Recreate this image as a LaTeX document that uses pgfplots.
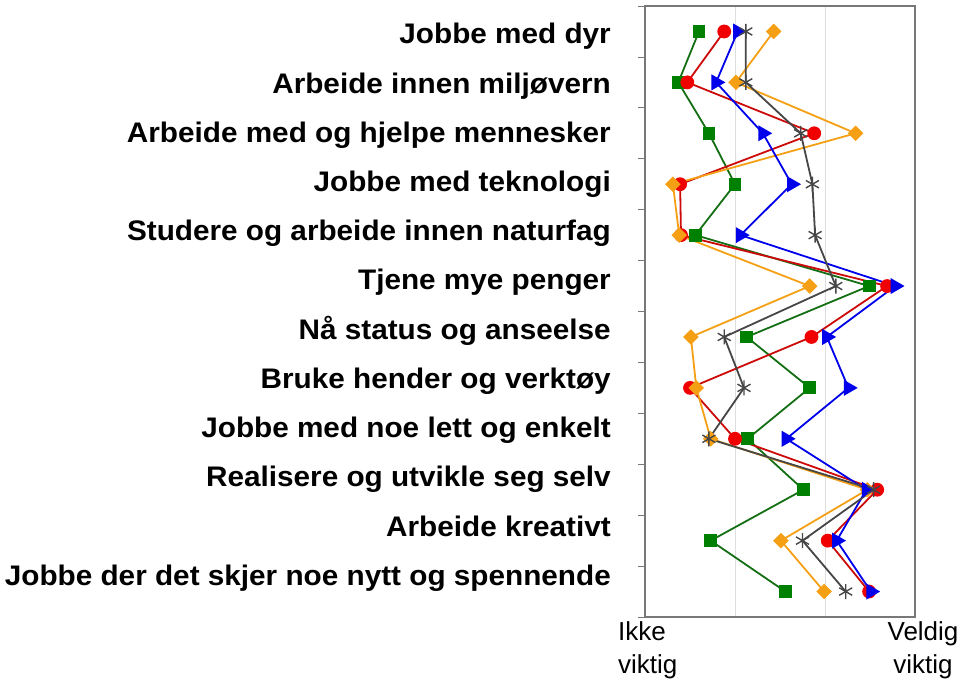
\documentclass[border=0pt]{standalone}
\usepackage{pgfplots}
\pgfplotsset{compat=1.18}
\usepackage{fontspec}
\setmainfont{Liberation Sans}
\newfontfamily\catfont{Liberation Sans}[FakeStretch=1.05]
\definecolor{cgreen}{RGB}{0,128,0}
\definecolor{cgreenl}{RGB}{20,110,20}
\definecolor{cred}{RGB}{240,0,0}
\definecolor{credl}{RGB}{205,10,10}
\definecolor{corange}{RGB}{245,160,20}
\definecolor{cblue}{RGB}{0,0,235}
\definecolor{cgray}{RGB}{70,70,70}
\definecolor{cframe}{RGB}{120,120,120}
\begin{document}
\begin{tikzpicture}[x=1pt,y=1pt]
\useasboundingbox (0,0) rectangle (960,680);
\begin{axis}[at={(645pt,63pt)}, anchor=south west, scale only axis,
  width=270pt, height=611pt,
  xmin=1, xmax=4, ymin=0.5, ymax=12.5, y dir=reverse,
  xtick={2,3}, xticklabels={}, xmajorgrids,
  major grid style={color=black!13, line width=0.6pt},
  ytick={1,...,12}, yticklabels={},
  major tick length=0pt,
  minor ytick={0.5,1.5,...,12.5}, minor tick length=7pt, tick align=outside,
  ytick pos=left, xtick pos=bottom,
  minor tick style={cframe, line width=0.8pt},
  axis line style={cframe, line width=1.2pt},
  clip=false,
  every axis plot/.append style={line width=1.8pt}]
\addplot[cgreenl, mark=square*, mark size=5.5pt, mark options={cgreen, solid}] coordinates {
(1.60,1) (1.37,2) (1.71,3) (2.00,4) (1.56,5) (3.49,6) (2.13,7) (2.83,8) (2.14,9) (2.76,10) (1.73,11) (2.56,12)};
\addplot[credl, mark=*, mark size=6pt, mark options={cred, solid}] coordinates {
(1.88,1) (1.47,2) (2.88,3) (1.39,4) (1.40,5) (3.69,6) (2.85,7) (1.50,8) (2.00,9) (3.58,10) (3.03,11) (3.49,12)};
\addplot[corange, mark=square*, mark size=4.6pt, mark options={corange, solid, rotate=45}] coordinates {
(2.43,1) (2.01,2) (3.34,3) (1.31,4) (1.38,5) (2.83,6) (1.51,7) (1.57,8) (1.73,9) (3.47,10) (2.51,11) (2.99,12)};
\addplot[cblue, mark=triangle*, mark size=7.5pt, mark options={cblue, solid, rotate=-90}] coordinates {
(2.03,1) (1.79,2) (2.31,3) (2.63,4) (2.06,5) (3.78,6) (3.02,7) (3.26,8) (2.57,9) (3.46,10) (3.13,11) (3.51,12)};
\addplot[cgray, mark=asterisk, mark size=7.5pt, mark options={cgray, solid, line width=1.4pt}] coordinates {
(2.12,1) (2.12,2) (2.73,3) (2.86,4) (2.89,5) (3.12,6) (1.88,7) (2.10,8) (1.71,9) (3.54,10) (2.75,11) (3.23,12)};
\end{axis}
\foreach \t [count=\i from 0] in {Jobbe med dyr, Arbeide innen miljøvern, Arbeide med og hjelpe mennesker, Jobbe med teknologi, Studere og arbeide innen naturfag, Tjene mye penger, Nå status og anseelse, Bruke hender og verktøy, Jobbe med noe lett og enkelt, Realisere og utvikle seg selv, Arbeide kreativt, Jobbe der det skjer noe nytt og spennende}
  \node[anchor=base east, inner sep=0pt, font=\catfont\bfseries\fontsize{28.3}{30}\selectfont] at (611, {680-44-49.2*\i}) {\t};
\node[anchor=north west, align=left, inner sep=0pt, font=\fontsize{26}{33}\selectfont] at (618,58.3) {Ikke\\viktig};
\node[anchor=north, align=center, inner sep=0pt, font=\fontsize{26}{33}\selectfont] at (923,58.3) {Veldig\\viktig};
\end{tikzpicture}
\end{document}
